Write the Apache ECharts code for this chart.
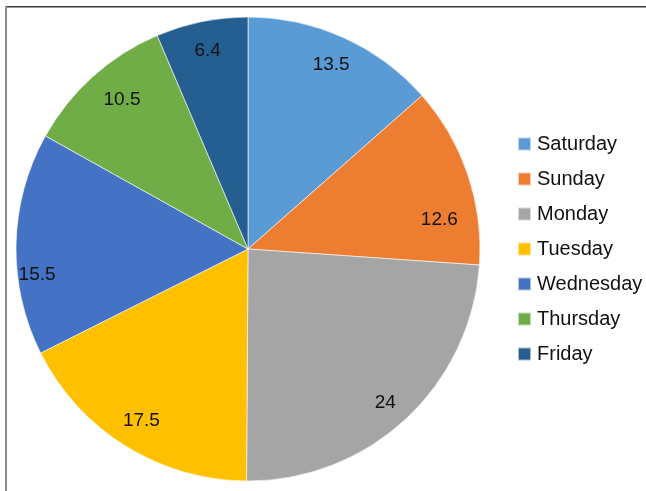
<!DOCTYPE html>
<html>
<head>
<meta charset="utf-8">
<script src="https://cdn.jsdelivr.net/npm/echarts@6/dist/echarts.min.js"></script>
<style>
html,body{margin:0;padding:0;background:#fff;}
#c{width:646px;height:491px;}
</style>
</head>
<body>
<div id="c"></div>
<script>
var categories = ['Saturday','Sunday','Monday','Tuesday','Wednesday','Thursday','Friday'];
var values = [13.5, 12.6, 24, 17.5, 15.5, 10.5, 6.4];
var colors = ['#5B9BD5','#ED7D31','#A5A5A5','#FFC000','#4472C4','#70AD47','#255E91'];

// Excel "best fit" nudges for a few labels
var labelNudge = {Sunday:[0, 36], Monday:[0, 6], Wednesday:[-9, 30], Thursday:[9, 1]};

var chart = echarts.init(document.getElementById('c'), null, {renderer:'canvas'});
var mainData = categories.map(function(n,i){
  return {name:n, value:values[i], itemStyle:{color:colors[i]}};
});
var labelData = categories.map(function(n,i){
  var d = {name:n, value:values[i]};
  if (labelNudge[n]) d.label = {offset:labelNudge[n]};
  return d;
});
chart.setOption({
  animation:false,
  color: colors,
  graphic:[
    {type:'rect', shape:{x:5, y:6, width:641, height:1.5}, style:{fill:'#3a3a3a'}, silent:true},
    {type:'rect', shape:{x:5, y:6, width:2, height:485}, style:{fill:'#8c8c8c'}, silent:true}
  ],
  legend:{
    orient:'vertical',
    left:517, top:134, padding:0,
    itemWidth:13, itemHeight:13, itemGap:15,
    icon:'rect',
    data: categories,
    textStyle:{fontFamily:'Liberation Sans, Arial, sans-serif', fontSize:20, lineHeight:20, color:'#111', padding:[0,0,0,1]}
  },
  series:[
    {
      type:'pie', center:[248,249], radius:[0,232],
      startAngle:90, clockwise:true,
      data: mainData,
      itemStyle:{borderColor:'rgba(255,255,255,0.6)', borderWidth:1},
      label:{show:false}, labelLine:{show:false},
      emphasis:{disabled:true}
    },
    {
      type:'pie', center:[248,249], radius:[166,232],
      startAngle:90, clockwise:true, silent:true,
      data: labelData,
      itemStyle:{color:'rgba(0,0,0,0)'},
      label:{show:true, position:'inside', formatter:'{c}', fontFamily:'Liberation Sans, Arial, sans-serif', fontSize:19, color:'#111'},
      labelLine:{show:false},
      emphasis:{disabled:true}
    }
  ]
});
</script>
</body>
</html>
